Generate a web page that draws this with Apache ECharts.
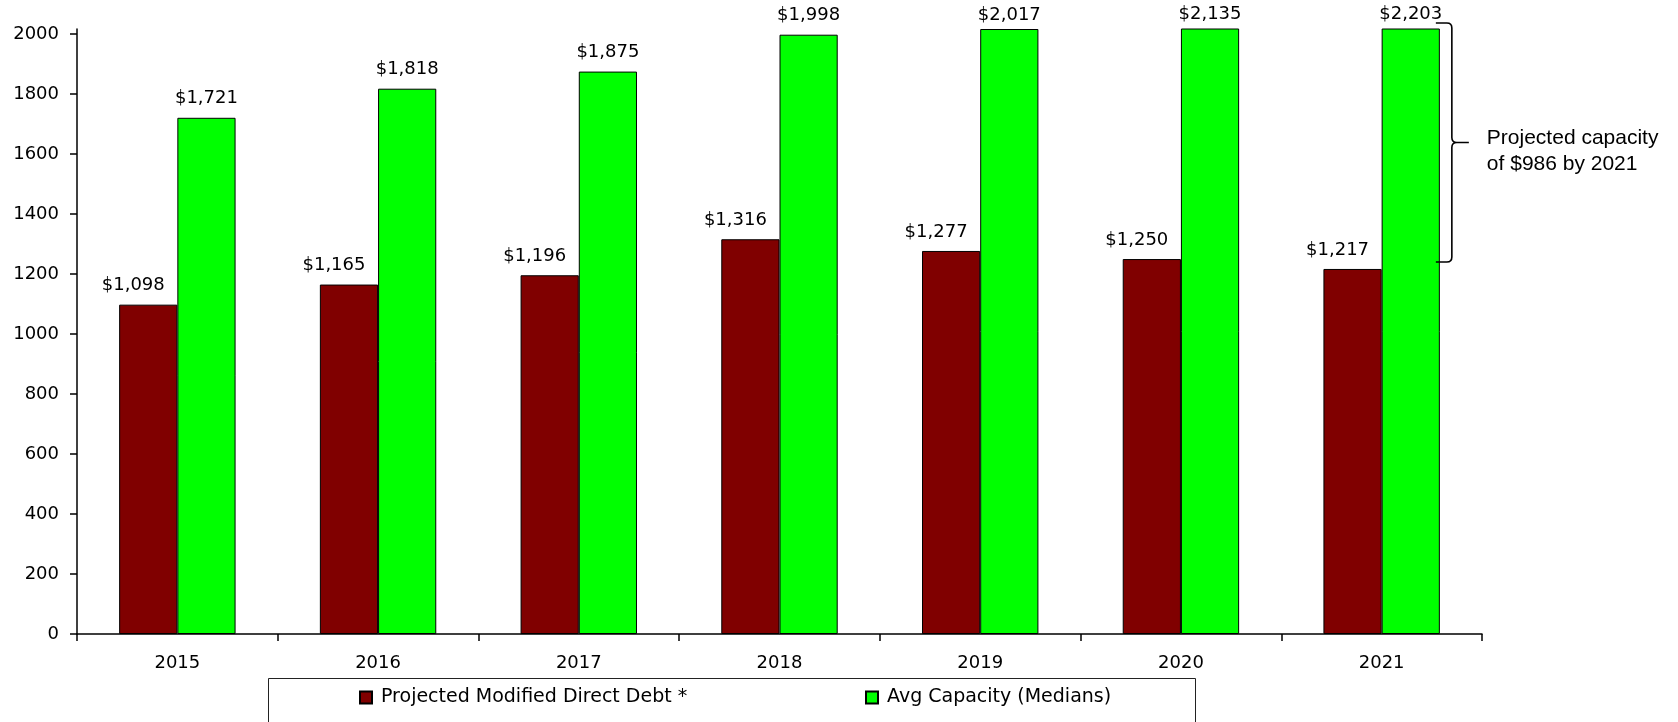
<!DOCTYPE html>
<html>
<head>
<meta charset="utf-8">
<title>Projected Debt vs Capacity</title>
<script src="https://cdn.jsdelivr.net/npm/echarts@6/dist/echarts.min.js"></script>
<style>
  html, body { margin: 0; padding: 0; background: #fff; }
  #chart { width: 1678px; height: 722px; }
</style>
</head>
<body>
<div id="chart"></div>
<script>
// Fiscal years on the category axis
const years = ['2015', '2016', '2017', '2018', '2019', '2020', '2021'];
// Projected modified direct debt ($ millions)
const debt = [1098, 1165, 1196, 1316, 1277, 1250, 1217];
// Average capacity from medians ($ millions)
const capacity = [1721, 1818, 1875, 1998, 2017, 2135, 2203];
// Value axis tick labels
const yTicks = [0, 200, 400, 600, 800, 1000, 1200, 1400, 1600, 1800, 2000];
// Top of the plot area; taller bars are cut off here
const yMax = 2017;

const seriesNames = ['Projected Modified Direct Debt *', 'Avg Capacity (Medians)'];
// Brace note on the last year: capacity headroom over debt
const noteYear = '2021';
const noteLines = ['Projected capacity', 'of $986 by 2021'];

const BAR_SHARE = 0.29;
const axisFont = 'DejaVu Sans';
const money = v => '$' + Number(v).toLocaleString('en-US');

const chart = echarts.init(document.getElementById('chart'), null, { renderer: 'canvas' });

const noteIdx = years.indexOf(noteYear);

const legendBase = {
  top: 688, padding: 0,
  itemWidth: 12, itemHeight: 12,
  icon: 'rect',
  textStyle: { fontFamily: axisFont, fontSize: 19, color: '#000', padding: [0, 0, 0, 4] }
};

const option = {
  backgroundColor: '#ffffff',
  animation: false,
  textStyle: { fontFamily: axisFont, color: '#000' },
  grid: { left: 77, right: 196, top: 29, bottom: 88, containLabel: false },
  xAxis: {
    type: 'category',
    data: years,
    boundaryGap: true,
    axisLine: { show: true, lineStyle: { color: '#000', width: 1.5 } },
    axisTick: { show: true, alignWithLabel: false, length: 7, lineStyle: { color: '#000', width: 1.5 } },
    axisLabel: { color: '#000', fontFamily: axisFont, fontSize: 18, margin: 20 },
    splitLine: { show: false }
  },
  yAxis: {
    type: 'value',
    min: 0,
    max: yMax,
    axisLine: { show: true, lineStyle: { color: '#000', width: 1.5 } },
    axisTick: { show: true, length: 7, customValues: yTicks, lineStyle: { color: '#000', width: 1.5 } },
    axisLabel: {
      color: '#000', fontFamily: axisFont, fontSize: 18, margin: 18,
      customValues: yTicks,
      formatter: v => String(v)
    },
    splitLine: { show: false }
  },
  legend: [
    Object.assign({}, legendBase, { data: [seriesNames[0]], left: 359 }),
    Object.assign({}, legendBase, { data: [seriesNames[1]], left: 865 })
  ],
  graphic: [
    {
      type: 'rect',
      silent: true,
      shape: { x: 268.5, y: 678.5, width: 927, height: 60 },
      style: { fill: 'none', stroke: '#222', lineWidth: 1 }
    }
  ],
  series: [
    {
      name: seriesNames[0],
      type: 'bar',
      data: debt,
      barWidth: (BAR_SHARE * 100) + '%',
      barGap: '0%',
      clip: true,
      itemStyle: { color: '#800000', borderColor: '#000', borderWidth: 1 },
      label: {
        show: true, position: 'top', distance: 10, offset: [-15, 0],
        fontFamily: axisFont, fontSize: 18, color: '#000',
        formatter: p => money(p.value)
      }
    },
    {
      name: seriesNames[1],
      type: 'bar',
      data: capacity.map(v => v >= yMax ? { value: v, label: { distance: 5 } } : v),
      barWidth: (BAR_SHARE * 100) + '%',
      barGap: '0%',
      clip: true,
      itemStyle: { color: '#00ff00', borderColor: '#000', borderWidth: 1 },
      label: {
        show: true, position: 'top', distance: 10,
        fontFamily: axisFont, fontSize: 18, color: '#000',
        formatter: p => money(p.value)
      }
    },
    {
      // Curly brace spanning the gap between capacity and debt on the note year
      type: 'custom',
      name: 'note',
      silent: true,
      clip: false,
      z: 5,
      data: [[noteIdx, capacity[noteIdx], debt[noteIdx]]],
      renderItem: function (params, api) {
        const idx = api.value(0);
        const cx = api.coord([idx, 0])[0];
        const band = api.size([1, 0])[0];
        const barRight = cx + band * BAR_SHARE;
        const plotTop = params.coordSys.y;
        const top = Math.max(api.coord([idx, api.value(1)])[1], plotTop) - 6;
        const bot = api.coord([idx, api.value(2)])[1] - 7;
        const mid = (top + bot) / 2;
        const x0 = barRight - 4;
        const xv = barRight + 12;
        const tip = barRight + 29;
        const r = 5;
        const d =
          'M' + x0 + ' ' + top + ' L' + (xv - r) + ' ' + top +
          ' Q' + xv + ' ' + top + ' ' + xv + ' ' + (top + r) +
          ' L' + xv + ' ' + (mid - r) +
          ' Q' + xv + ' ' + mid + ' ' + (xv + r) + ' ' + mid +
          ' L' + tip + ' ' + mid +
          ' M' + (xv + r) + ' ' + mid +
          ' Q' + xv + ' ' + mid + ' ' + xv + ' ' + (mid + r) +
          ' L' + xv + ' ' + (bot - r) +
          ' Q' + xv + ' ' + bot + ' ' + (xv - r) + ' ' + bot +
          ' L' + x0 + ' ' + bot;
        return {
          type: 'group',
          children: [
            {
              type: 'path',
              shape: { pathData: d },
              style: { fill: 'none', stroke: '#000', lineWidth: 1.6 }
            },
            {
              type: 'text',
              x: barRight + 47,
              y: mid + 9,
              style: {
                text: noteLines.join('\n'),
                fontFamily: 'Liberation Sans, Arial, sans-serif',
                fontSize: 21,
                lineHeight: 26,
                fill: '#000',
                align: 'left',
                verticalAlign: 'middle'
              }
            }
          ]
        };
      }
    }
  ]
};

chart.setOption(option);
</script>
</body>
</html>
